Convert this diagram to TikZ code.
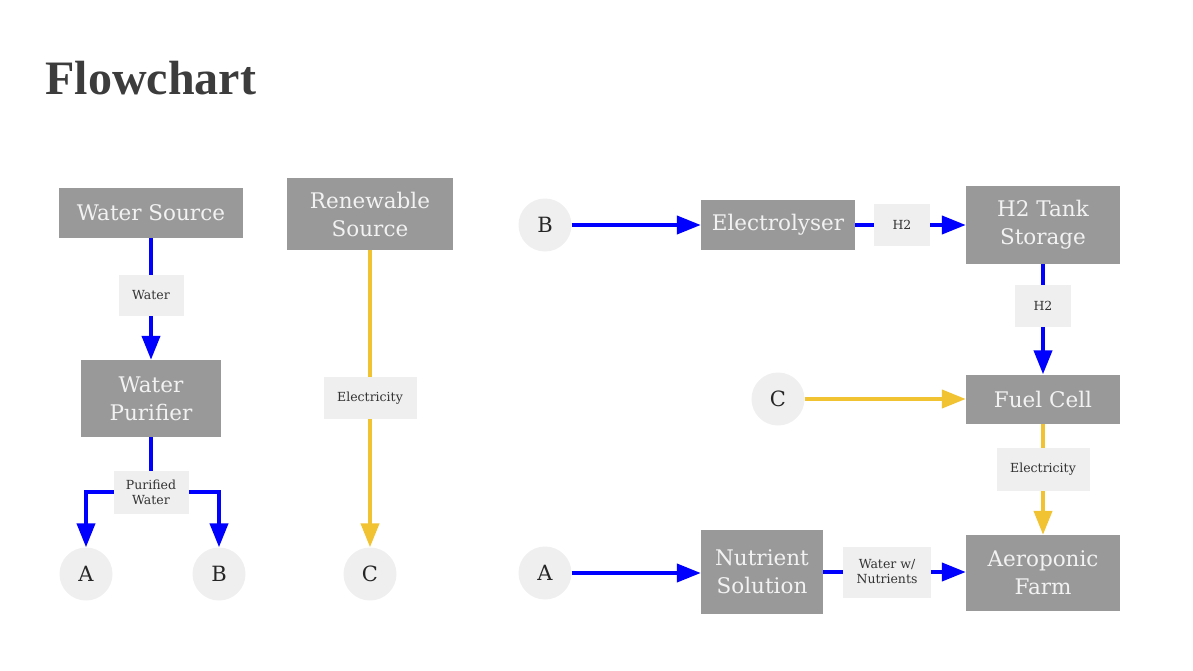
\documentclass[tikz,border=0pt]{standalone}
\usepackage{fontspec}
\setmainfont{DejaVu Serif}
\newfontfamily\titlefont{Liberation Serif}
\usetikzlibrary{arrows.meta, positioning, calc}
\definecolor{flowblue}{HTML}{0000FF}
\definecolor{flowyellow}{HTML}{F1C232}
\definecolor{boxgray}{HTML}{999999}
\definecolor{tagfill}{HTML}{EFEFEF}
\definecolor{titlegray}{HTML}{3C3C3C}
\tikzset{
	block/.style={rectangle, fill=boxgray, text=white!95!black, align=center, inner sep=0pt, font=\fontsize{21.5}{28}\selectfont},
	terminal/.style={circle, fill=tagfill, minimum size=53pt, inner sep=0pt, text=black!85, font=\fontsize{21}{24}\selectfont},
	tag/.style={rectangle, fill=tagfill, align=center, inner sep=0pt, text=black!80, font=\fontsize{12.5}{15}\selectfont},
	water/.style={draw=flowblue, line width=4pt, -{Triangle[length=24pt, width=18pt]}},
	power/.style={draw=flowyellow, line width=4pt, -{Triangle[length=24pt, width=18pt]}}
}

\begin{document}
\begin{tikzpicture}[x=1pt, y=-1pt]
	\useasboundingbox (0,0) rectangle (1193,671);
	
	% Title
	\node[anchor=base west, text=titlegray, font=\titlefont\bfseries\fontsize{48}{52}\selectfont] (title) at (42,95) {Flowchart};
	
	% Left column: water supply
	\node[block, minimum width=184pt, minimum height=50pt] (water_source) at (151,213) {Water Source};
	\node[block, minimum width=140pt, minimum height=77pt] (water_purifier) at (151,398.5) {Water\\Purifier};
	\node[terminal] (out_A) at (86,574) {A};
	\node[terminal] (out_B) at (219,574) {B};
	
	\draw[water] (water_source) -- (water_purifier);
	\node[tag, minimum width=65pt, minimum height=41pt] (water_tag) at (151,295) {Water};
	
	\coordinate (purified_junction) at (151,492);
	\draw[water] (water_purifier) -- (purified_junction) -| (out_A);
	\draw[water] (water_purifier) -- (purified_junction) -| (out_B);
	\node[tag, minimum width=75pt, minimum height=43pt] (purified_tag) at (purified_junction) {Purified\\Water};
	
	% Middle column: power supply
	\node[block, minimum width=166pt, minimum height=72pt] (renewable_source) at (370,214) {Renewable\\Source};
	\node[terminal] (out_C) at (370,574) {C};
	\draw[power] (renewable_source) -- (out_C);
	\node[tag, minimum width=93pt, minimum height=42pt] (electricity_tag_left) at (370,398) {Electricity};
	
	% Right part: hydrogen and farm
	\node[terminal] (in_B) at (545,225) {B};
	\node[terminal] (in_C) at (778,399) {C};
	\node[terminal] (in_A) at (545,573) {A};
	\node[block, minimum width=154pt, minimum height=50pt] (electrolyser) at (778,225) {Electrolyser};
	\node[block, minimum width=154pt, minimum height=78pt] (h2_tank) at (1043,225) {H2 Tank\\Storage};
	\node[block, minimum width=154pt, minimum height=49pt] (fuel_cell) at (1043,399) {Fuel Cell};
	\node[block, minimum width=154pt, minimum height=76pt] (aeroponic_farm) at (1043,573) {Aeroponic\\Farm};
	\node[block, minimum width=122pt, minimum height=84pt] (nutrient_solution) at (762,572) {Nutrient\\Solution};
	
	\draw[water] (in_B) -- (electrolyser);
	\draw[water] (electrolyser) -- (h2_tank);
	\node[tag, minimum width=56pt, minimum height=42pt] (h2_tag_top) at (902,225) {H2};
	
	\draw[water] (h2_tank) -- (fuel_cell);
	\node[tag, minimum width=56pt, minimum height=42pt] (h2_tag_down) at (1043,306) {H2};
	
	\draw[power] (in_C) -- (fuel_cell);
	\draw[power] (fuel_cell) -- (aeroponic_farm);
	\node[tag, minimum width=93pt, minimum height=43pt] (electricity_tag_right) at (1043,469) {Electricity};
	
	\draw[water] (in_A) -- (in_A -| nutrient_solution.west);
	\draw[water] (nutrient_solution) -- (nutrient_solution -| aeroponic_farm.west);
	\node[tag, minimum width=88pt, minimum height=51pt] (nutrients_tag) at (887,572) {Water w/\\Nutrients};
	
\end{tikzpicture}
\end{document}
